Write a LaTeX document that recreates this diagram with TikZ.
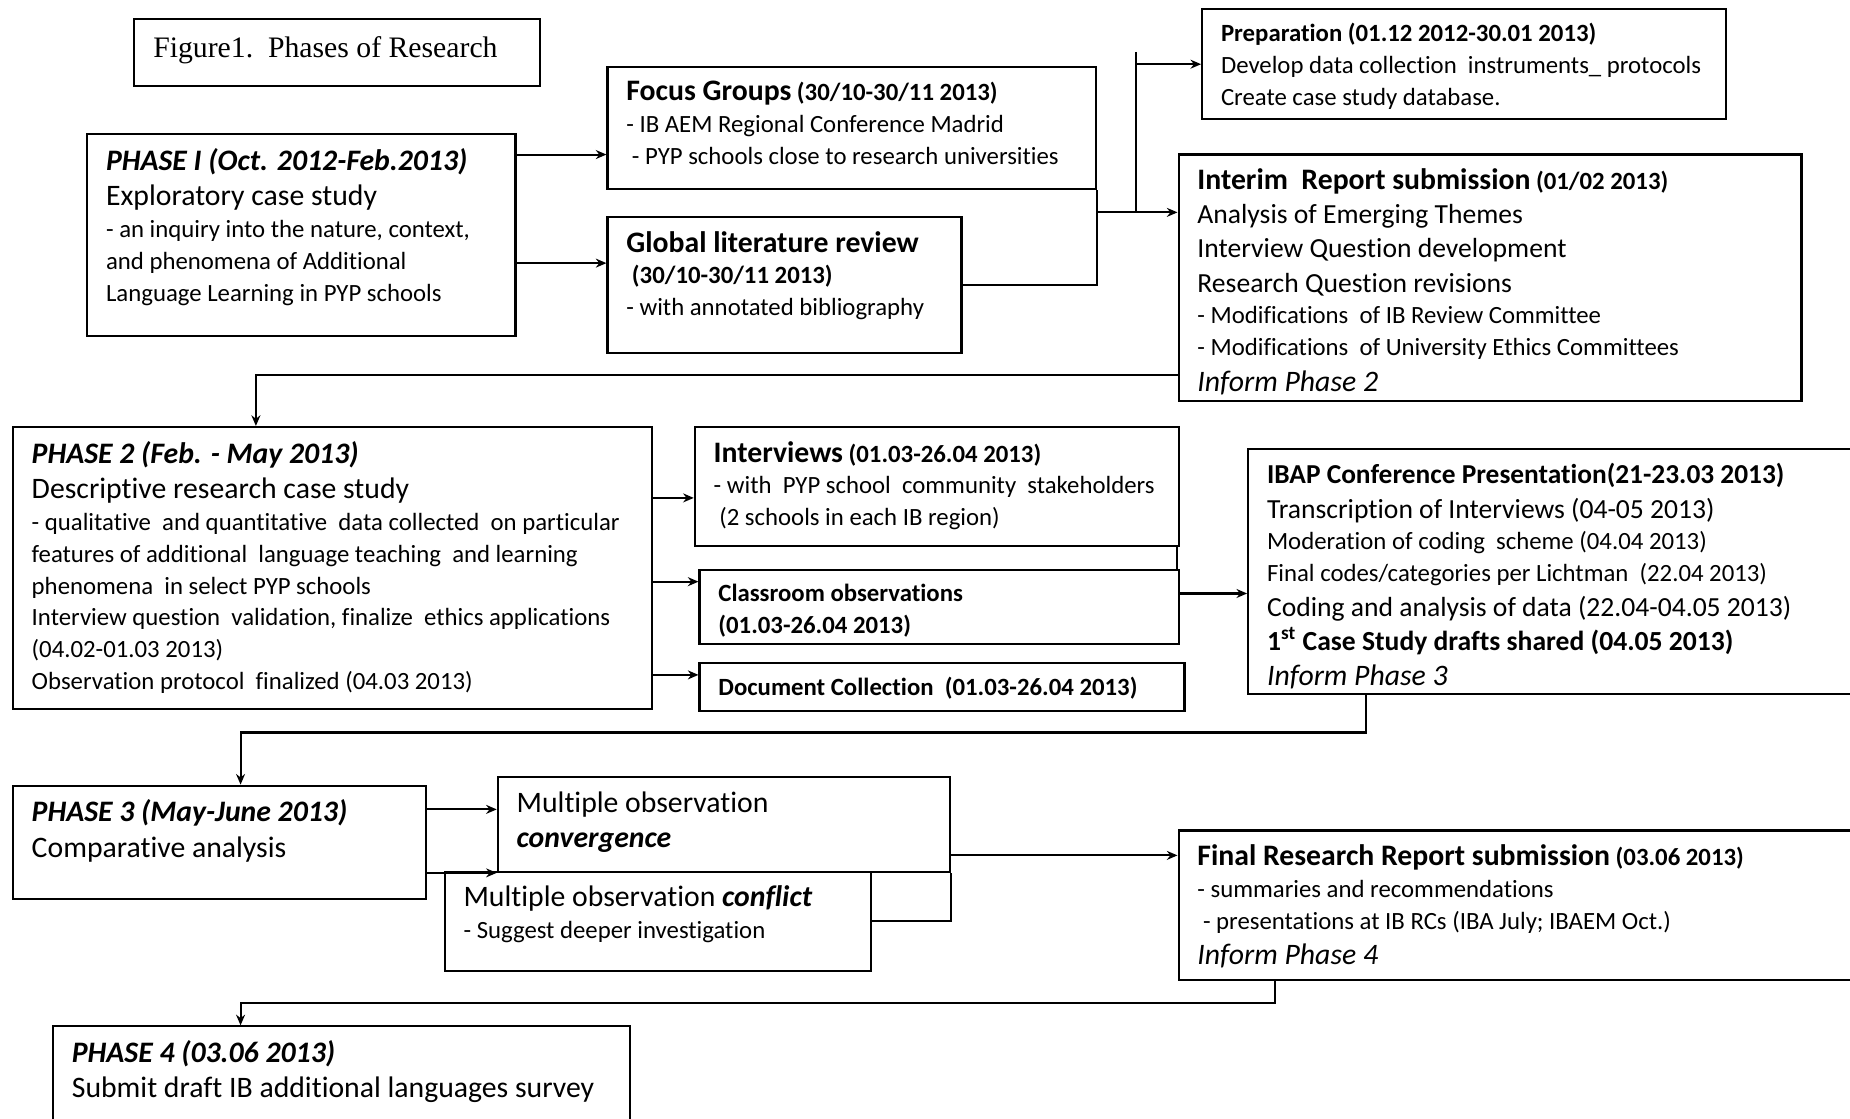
\documentclass[tikz,border=0pt]{standalone}
\usepackage{fontspec}
\setmainfont{Carlito}[Ligatures=NoCommon]
\newfontfamily\titlefont{Liberation Serif}
\usetikzlibrary{arrows.meta}

\newcommand{\bigsize}{\fontsize{12.6}{15}\selectfont}
\newcommand{\midsize}{\fontsize{11.7}{14.5}\selectfont}
\newcommand{\smallsize}{\fontsize{10.5}{13.5}\selectfont}

\tikzset{
  stage/.style 2 args={draw, line width=0.9pt, anchor=north west,
    inner xsep=8pt, inner ysep=6pt, font=\smallsize,
    execute at begin node={\begin{minipage}[c][\dimexpr #2pt/2-12pt\relax][t]{\dimexpr #1pt/2-16pt\relax}},
    execute at end node={\end{minipage}}},
  link/.style={line width=0.9pt},
  arr/.style={link, -{Stealth[length=4.5pt,width=3.8pt]}},
}

\begin{document}
\begin{tikzpicture}[x=0.5pt,y=-0.5pt]
  \useasboundingbox (0,0) rectangle (1568,948);
  \fill[white] (0,0) rectangle (1568,948);
  \clip (0,0) rectangle (1568,948);

  % phase 1
  \node[stage={344}{57}] (title) at (113,15)
    {\titlefont\fontsize{12.6}{15}\selectfont\vspace*{1.5pt}Figure1.\ \ Phases of Research};
  \node[stage={363}{171}] (phaseI) at (73,113) {%
    {\bigsize\bfseries\itshape PHASE I (Oct. 2012-Feb.2013)\par}
    {\bigsize Exploratory case study\par}
    - an inquiry into the nature, context,\par
    and phenomena of Additional\par
    Language Learning in PYP schools\par};
  \node[stage={414}{103}] (focus) at (514,56) {%
    {\bigsize\bfseries Focus Groups} {\bfseries (30/10-30/11 2013)}\par
    - IB AEM Regional Conference Madrid\par
    \ - PYP schools close to research universities\par};
  \node[stage={300}{115}] (review) at (514,183) {%
    {\bigsize\bfseries Global literature review\par}
    {\bfseries\ (30/10-30/11 2013)\par}
    - with annotated bibliography\par};
  \node[stage={444}{93}] (prep) at (1018,7) {%
    {\bfseries Preparation (01.12 2012-30.01 2013)\par}
    Develop data collection\ \ instruments\_ protocols\par
    Create case study database.\par};
  \node[stage={528}{209}] (interim) at (998,130) {%
    {\bigsize\bfseries Interim\ \ Report submission} {\bfseries (01/02 2013)}\par
    {\midsize Analysis of Emerging Themes\par}
    {\midsize Interview Question development\par}
    {\midsize Research Question revisions\par}
    - Modifications\ \ of IB Review Committee\par
    - Modifications\ \ of University Ethics Committees\par
    {\bigsize\itshape Inform Phase 2\par}};

  \draw[arr] (phaseI.east |- 0,131) -- (focus.west |- 0,131);
  \draw[arr] (phaseI.east |- 0,223) -- (review.west |- 0,223);
  \draw[link] (review.east) -| (focus.south east);
  \coordinate (fork) at (963,180);
  \draw[arr] (focus.south east |- fork) -- (interim.west |- fork);
  \draw[link] (fork |- 0,44) -- (fork);
  \draw[arr] (fork |- prep.west) -- (prep.west);

  % phase 2
  \node[stage={542}{239}] (phaseII) at (10,361) {%
    {\bigsize\bfseries\itshape PHASE 2 (Feb. - May 2013)\par}
    {\bigsize Descriptive research case study\par}
    - qualitative\ \ and quantitative\ \ data collected\ \ on particular\par
    features of additional\ \ language teaching\ \ and learning\par
    phenomena\ \ in select PYP schools\par
    Interview question\ \ validation, finalize\ \ ethics applications\par
    (04.02-01.03 2013)\par
    Observation protocol\ \ finalized (04.03 2013)\par};
  \node[stage={410}{101}] (interviews) at (588,361) {%
    {\bigsize\bfseries Interviews} {\bfseries (01.03-26.04 2013)}\par
    - with\ \ PYP school\ \ community\ \ stakeholders\par
    \ (2 schools in each IB region)\par};
  \node[stage={406}{63}] (classroom) at (592,482) {%
    {\bfseries Classroom observations\par}
    {\bfseries (01.03-26.04 2013)\par}};
  \node[stage={411}{41}] (documents) at (592,561) {%
    {\bfseries Document Collection\ \ (01.03-26.04 2013)\par}};
  \node[stage={560}{207}] (ibap) at (1057,380) {%
    {\fontsize{11.6}{14}\selectfont\bfseries IBAP Conference Presentation(21-23.03 2013)\par}
    {\midsize Transcription of Interviews (04-05 2013)\par}
    Moderation of coding\ \ scheme (04.04 2013)\par
    Final codes/categories per Lichtman\ \ (22.04 2013)\par
    {\midsize Coding and analysis of data (22.04-04.05 2013)\par}
    {\midsize\bfseries 1\textsuperscript{st} Case Study drafts shared (04.05 2013)\par}
    {\bigsize\itshape Inform Phase 3\par}};

  \draw[arr] (interim.west |- 0,318) -| ([xshift=-32.5pt]phaseII.north);
  \draw[arr] (phaseII.east |- 0,422) -- (interviews.west |- 0,422);
  \draw[arr] (phaseII.east |- 0,493) -- (classroom.west |- 0,493);
  \draw[arr] (phaseII.east |- 0,572) -- (documents.west |- 0,572);
  \draw[link] ([xshift=-1pt]interviews.south east) -- ([xshift=-1pt]interviews.south east |- classroom.north);
  \draw[arr] (classroom.east |- 0,503) -- (ibap.west |- 0,503);

  % phase 3
  \node[stage={350}{96}] (phaseIII) at (10,665) {%
    {\bigsize\bfseries\itshape PHASE 3 (May-June 2013)\par}
    {\bigsize Comparative analysis\par}};
  \node[stage={383}{80}] (converge) at (421,658) {%
    {\bigsize Multiple observation\par}
    {\bigsize\bfseries\itshape convergence\par}};
  \node[stage={361}{84}] (conflict) at (376,738) {%
    {\bigsize Multiple observation \textbf{\textit{conflict}}\par}
    - Suggest deeper investigation\par};
  \node[stage={620}{127}] (final) at (998,703) {%
    {\bigsize\bfseries Final Research Report submission} {\bfseries (03.06 2013)}\par
    - summaries and recommendations\par
    \ - presentations at IB RCs (IBA July; IBAEM Oct.)\par
    {\bigsize\itshape Inform Phase 4\par}};

  \draw[arr] ([xshift=50.5pt]ibap.south west) -- ++(0,32) -| ([xshift=9pt]phaseIII.north);
  \draw[arr] (phaseIII.east |- 0,686) -- (converge.west |- 0,686);
  \draw[arr] (phaseIII.east |- converge.south west) -- (converge.south west);
  \draw[link] (conflict.east) -| (converge.south east);
  \draw[arr] (converge.east |- 0,725) -- (final.west |- 0,725);

  % phase 4
  \node[stage={489}{100}] (phaseIV) at (44,869) {%
    {\bigsize\bfseries\itshape PHASE 4 (03.06 2013)\par}
    {\bigsize Submit draft IB additional languages survey\par}};

  \draw[arr] ([xshift=41.5pt]final.south west) -- ++(0,18) -| ([xshift=-42.75pt]phaseIV.north);
\end{tikzpicture}
\end{document}
